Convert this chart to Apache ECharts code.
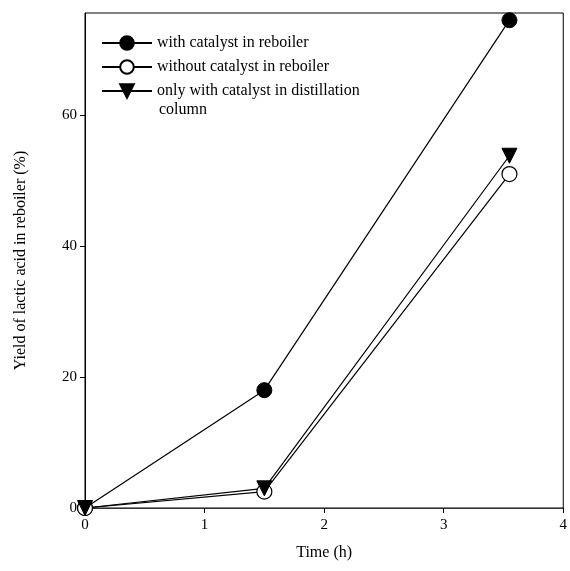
<!DOCTYPE html>
<html>
<head>
<meta charset="utf-8">
<script src="https://cdn.jsdelivr.net/npm/echarts@6/dist/echarts.min.js"></script>
<style>html,body{margin:0;padding:0;background:#fff}#c{width:570px;height:571px}</style>
</head>
<body>
<div id="c"></div>
<script>
var timeH = [0, 1.5, 3.55];
var withCatalyst = [0, 18, 74.5];
var withoutCatalyst = [0, 2.5, 51];
var columnOnly = [0, 3, 53.8];
var xTicks = [0, 1, 2, 3, 4];
var yTicks = [0, 20, 40, 60];
var seriesNames = ['with catalyst in reboiler', 'without catalyst in reboiler', 'only with catalyst in distillation'];

function pairs(ys){ return timeH.map(function(t,i){ return [t, ys[i]]; }); }
var font = 'Liberation Serif';
var chart = echarts.init(document.getElementById('c'));
var common = {type:'line', lineStyle:{color:'#000', width:1.2}, symbolSize:15, z:3};
chart.setOption({
  animation:false,
  backgroundColor:'#fff',
  grid:{left:85, right:6, top:13, bottom:63, show:true, borderColor:'#000', borderWidth:1},
  legend:{
    orient:'vertical', left:96, top:30, itemWidth:50, itemHeight:17, itemGap:8,
    textStyle:{fontFamily:font, fontSize:16, color:'#000'},
    data:seriesNames
  },
  graphic:[{type:'text', left:155, top:102, style:{text:' column', font:'16px "Liberation Serif"', fill:'#000'}}],
  xAxis:{
    type:'value', min:0, max:4, interval:1,
    name:'Time (h)', nameLocation:'middle', nameGap:37,
    nameTextStyle:{fontFamily:font, fontSize:16, color:'#000'},
    axisLine:{lineStyle:{color:'#333', width:1}},
    axisTick:{show:true, length:5, lineStyle:{color:'#000'}, customValues:xTicks},
    axisLabel:{fontFamily:font, fontSize:15, color:'#000', margin:10, customValues:xTicks},
    splitLine:{show:false}
  },
  yAxis:{
    type:'value', min:0, max:75.6,
    name:'Yield of lactic acid in reboiler (%)', nameLocation:'middle', nameGap:56,
    nameTextStyle:{fontFamily:font, fontSize:16, color:'#000'},
    axisLine:{show:true, lineStyle:{color:'#000', width:1}},
    axisTick:{show:true, length:5, lineStyle:{color:'#000'}, customValues:yTicks},
    axisLabel:{fontFamily:font, fontSize:15, color:'#000', margin:8, customValues:yTicks},
    splitLine:{show:false}
  },
  series:[
    Object.assign({}, common, {name:seriesNames[0], data:pairs(withCatalyst), symbol:'circle',
      itemStyle:{color:'#000', borderColor:'#000', borderWidth:1}}),
    Object.assign({}, common, {name:seriesNames[1], data:pairs(withoutCatalyst), symbol:'circle',
      itemStyle:{color:'#fff', borderColor:'#000', borderWidth:1.2}}),
    Object.assign({}, common, {name:seriesNames[2], data:pairs(columnOnly), symbol:'triangle', symbolRotate:180,
      itemStyle:{color:'#000', borderColor:'#000', borderWidth:1}})
  ]
});
</script>
</body>
</html>
